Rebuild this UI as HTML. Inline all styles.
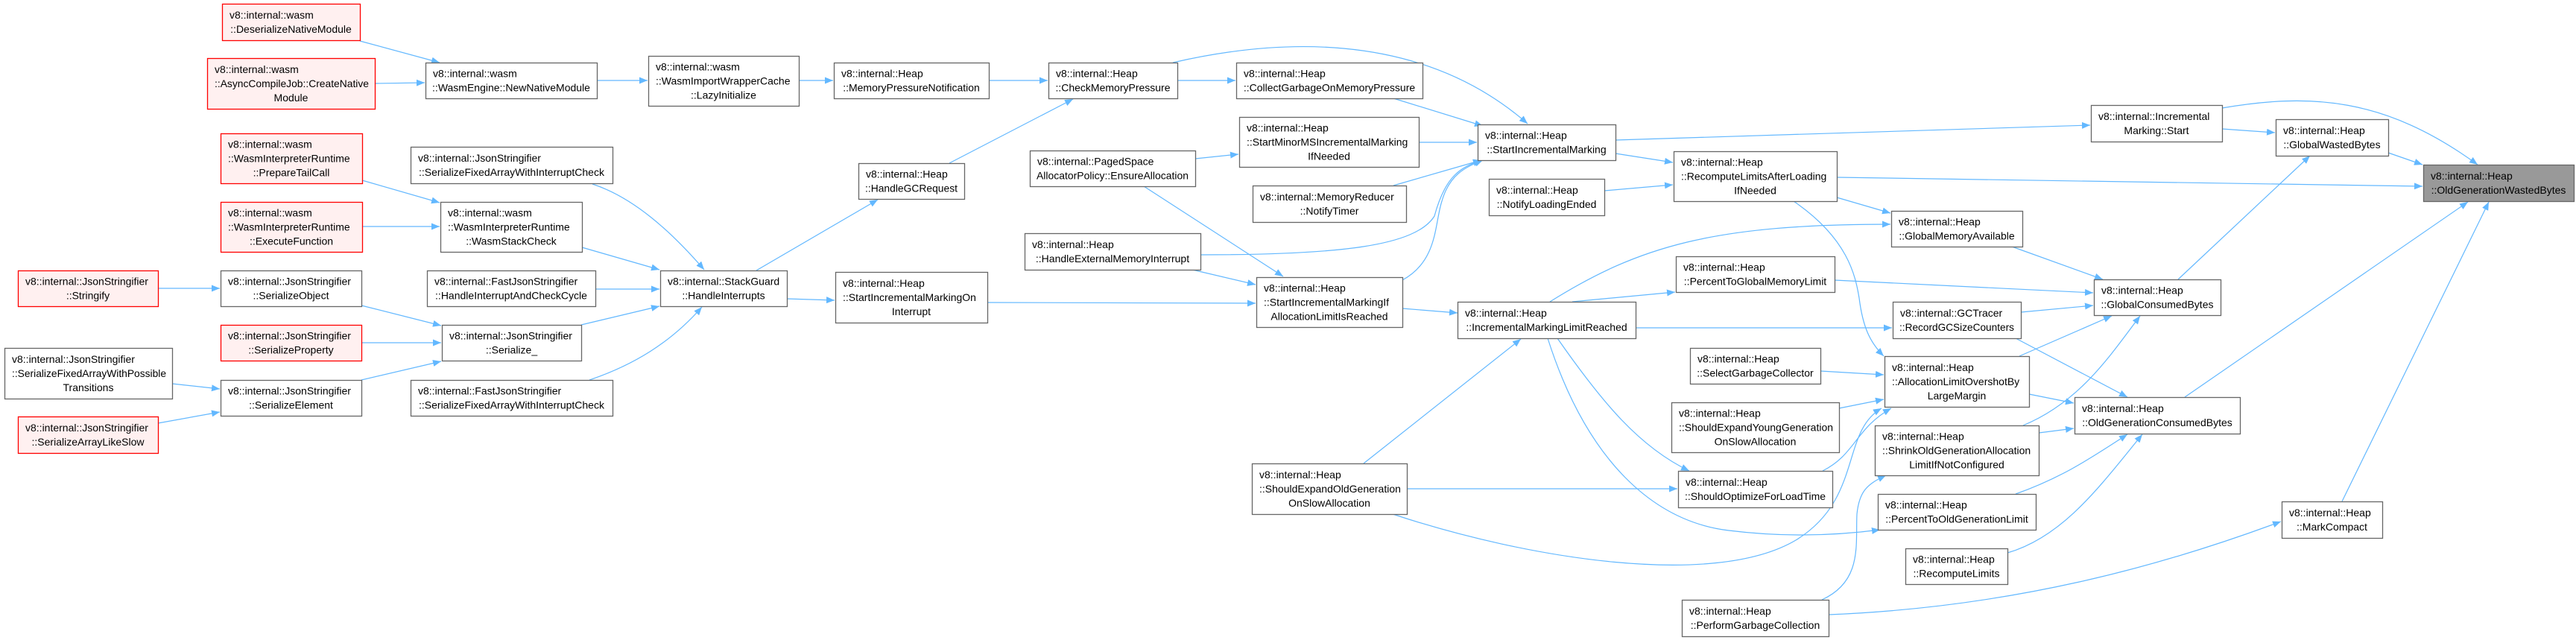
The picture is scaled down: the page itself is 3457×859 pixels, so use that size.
<!DOCTYPE html>
<html><head><meta charset="utf-8">
<style>
html,body{margin:0;padding:0;background:#fff;width:3457px;height:859px;overflow:hidden}
svg{display:block}
text{font-family:"Liberation Sans",sans-serif;font-size:14px;fill:#000}
</style></head>
<body>
<svg id="g" width="3457" height="859" xmlns="http://www.w3.org/2000/svg">
<defs><marker id="a" markerUnits="userSpaceOnUse" markerWidth="12" markerHeight="9" refX="11" refY="4.5" orient="auto"><path d="M0,0 L11,4.5 L0,9 z" fill="#63b8ff"/></marker></defs>
<g id="e" fill="none" stroke="#63b8ff" stroke-width="1.2" marker-end="url(#a)">
<path d="M483,55 L590,84"/>
<path d="M503,112 L570,111"/>
<path d="M801,108 L869,108"/>
<path d="M1072,108 L1118,108"/>
<path d="M1327,108 L1406,108"/>
<path d="M1580,108 L1658,108"/>
<path d="M1574,84 C1700,55 1900,35 2050,166"/>
<path d="M1870,132 L1990,169"/>
<path d="M1905,191 L1982,191"/>
<path d="M1870,249 L1988,215"/>
<path d="M1611,342 C1800,342 1900,330 1925,290 C1940,235 1960,225 1988,215"/>
<path d="M1882,376 C1930,350 1925,300 1935,270 C1945,235 1965,225 1990,215"/>
<path d="M1600,362 L1685,382"/>
<path d="M1535,250 L1722,371"/>
<path d="M1604,213 L1662,207"/>
<path d="M1325,406 L1685,407"/>
<path d="M1056,401 L1120,403"/>
<path d="M1015,363 L1178,268"/>
<path d="M1274,219 L1440,133"/>
<path d="M795,247 C850,265 900,310 945,362"/>
<path d="M781,332 L885,362"/>
<path d="M799,388 L885,388"/>
<path d="M780,436 L885,411"/>
<path d="M791,510 C850,490 900,460 942,412"/>
<path d="M486,242 L590,272"/>
<path d="M486,304 L590,304"/>
<path d="M212,387 L295,387"/>
<path d="M485,410 L592,437"/>
<path d="M485,460 L592,460"/>
<path d="M485,510 L592,485"/>
<path d="M231,515 L295,522"/>
<path d="M212,568 L295,553"/>
<path d="M1882,414 L1956,420"/>
<path d="M1830,622 L2041,455"/>
<path d="M1888,656 L2251,656"/>
<path d="M1869,690 C2050,750 2300,790 2410,725 C2500,670 2470,580 2525,548"/>
<path d="M2195,440 L2539,440"/>
<path d="M2110,405 L2248,392"/>
<path d="M2080,405 C2200,330 2300,301 2537,301"/>
<path d="M2090,454 C2150,540 2200,600 2267,632"/>
<path d="M2077,454 C2130,620 2220,700 2320,712 C2400,722 2470,718 2523,711"/>
<path d="M2168,188 L2805,168"/>
<path d="M2168,206 L2245,218"/>
<path d="M2153,256 L2245,248"/>
<path d="M2465,238 L3251,250"/>
<path d="M2465,265 L2537,286"/>
<path d="M2407,270 C2480,320 2490,370 2495,400 C2500,440 2510,460 2528,478"/>
<path d="M2462,376 L2809,393"/>
<path d="M2712,419 L2809,410"/>
<path d="M2705,454 L2855,533"/>
<path d="M2710,478 L2834,424"/>
<path d="M2723,529 L2783,541"/>
<path d="M2715,571 C2790,540 2830,480 2872,424"/>
<path d="M2736,581 L2783,575"/>
<path d="M2705,663 C2770,640 2810,612 2855,583"/>
<path d="M2694,742 C2770,720 2820,650 2875,583"/>
<path d="M2700,331 L2822,375"/>
<path d="M2443,498 L2528,503"/>
<path d="M2468,548 L2528,536"/>
<path d="M2446,632 C2490,610 2490,575 2538,548"/>
<path d="M2445,805 C2500,780 2490,730 2492,690 C2495,660 2505,650 2531,638"/>
<path d="M2454,825 C2700,815 2900,760 3061,700"/>
<path d="M2982,145 C3100,125 3200,130 3325,221"/>
<path d="M2982,173 L3053,178"/>
<path d="M3205,205 L3251,221"/>
<path d="M2923,375 L3100,209"/>
<path d="M2932,533 L3312,271"/>
<path d="M3143,673 L3340,271"/>
</g>
<g id="n"></g>
</svg>
<script>
var N=[
[298,5,483,54,["v8::internal::wasm","::DeserializeNativeModule"],1],
[278,78,503,146,["v8::internal::wasm","::AsyncCompileJob::CreateNative","Module"],1],
[571,84,801,132,["v8::internal::wasm","::WasmEngine::NewNativeModule"],0],
[296,179,486,246,["v8::internal::wasm","::WasmInterpreterRuntime","::PrepareTailCall"],1],
[296,271,486,338,["v8::internal::wasm","::WasmInterpreterRuntime","::ExecuteFunction"],1],
[551,197,822,246,["v8::internal::JsonStringifier","::SerializeFixedArrayWithInterruptCheck"],0],
[591,271,781,338,["v8::internal::wasm","::WasmInterpreterRuntime","::WasmStackCheck"],0],
[24,363,212,411,["v8::internal::JsonStringifier","::Stringify"],1],
[296,363,485,411,["v8::internal::JsonStringifier","::SerializeObject"],0],
[573,363,799,411,["v8::internal::FastJsonStringifier","::HandleInterruptAndCheckCycle"],0],
[296,436,485,484,["v8::internal::JsonStringifier","::SerializeProperty"],1],
[593,436,780,484,["v8::internal::JsonStringifier","::Serialize_"],0],
[6,467,231,535,["v8::internal::JsonStringifier","::SerializeFixedArrayWithPossible","Transitions"],0],
[296,510,485,558,["v8::internal::JsonStringifier","::SerializeElement"],0],
[551,510,822,558,["v8::internal::FastJsonStringifier","::SerializeFixedArrayWithInterruptCheck"],0],
[24,559,212,608,["v8::internal::JsonStringifier","::SerializeArrayLikeSlow"],1],
[870,75,1072,142,["v8::internal::wasm","::WasmImportWrapperCache","::LazyInitialize"],0],
[1119,84,1327,132,["v8::internal::Heap","::MemoryPressureNotification"],0],
[1407,84,1580,132,["v8::internal::Heap","::CheckMemoryPressure"],0],
[1659,84,1909,132,["v8::internal::Heap","::CollectGarbageOnMemoryPressure"],0],
[1152,219,1294,267,["v8::internal::Heap","::HandleGCRequest"],0],
[1382,202,1604,250,["v8::internal::PagedSpace","AllocatorPolicy::EnsureAllocation"],0],
[1663,157,1904,224,["v8::internal::Heap","::StartMinorMSIncrementalMarking","IfNeeded"],0],
[1681,249,1887,298,["v8::internal::MemoryReducer","::NotifyTimer"],0],
[1375,313,1611,362,["v8::internal::Heap","::HandleExternalMemoryInterrupt"],0],
[886,363,1056,411,["v8::internal::StackGuard","::HandleInterrupts"],0],
[1121,365,1325,433,["v8::internal::Heap","::StartIncrementalMarkingOn","Interrupt"],0],
[1686,372,1882,439,["v8::internal::Heap","::StartIncrementalMarkingIf","AllocationLimitIsReached"],0],
[1680,622,1888,690,["v8::internal::Heap","::ShouldExpandOldGeneration","OnSlowAllocation"],0],
[1983,167,2168,215,["v8::internal::Heap","::StartIncrementalMarking"],0],
[1998,240,2153,289,["v8::internal::Heap","::NotifyLoadingEnded"],0],
[2246,203,2465,270,["v8::internal::Heap","::RecomputeLimitsAfterLoading","IfNeeded"],0],
[2249,344,2462,392,["v8::internal::Heap","::PercentToGlobalMemoryLimit"],0],
[1956,405,2195,454,["v8::internal::Heap","::IncrementalMarkingLimitReached"],0],
[2268,467,2443,515,["v8::internal::Heap","::SelectGarbageCollector"],0],
[2243,540,2468,607,["v8::internal::Heap","::ShouldExpandYoungGeneration","OnSlowAllocation"],0],
[2252,632,2459,681,["v8::internal::Heap","::ShouldOptimizeForLoadTime"],0],
[2257,805,2454,854,["v8::internal::Heap","::PerformGarbageCollection"],0],
[2538,283,2714,331,["v8::internal::Heap","::GlobalMemoryAvailable"],0],
[2540,405,2712,454,["v8::internal::GCTracer","::RecordGCSizeCounters"],0],
[2529,478,2723,546,["v8::internal::Heap","::AllocationLimitOvershotBy","LargeMargin"],0],
[2516,571,2736,638,["v8::internal::Heap","::ShrinkOldGenerationAllocation","LimitIfNotConfigured"],0],
[2520,663,2732,711,["v8::internal::Heap","::PercentToOldGenerationLimit"],0],
[2557,736,2694,784,["v8::internal::Heap","::RecomputeLimits"],0],
[2806,141,2982,190,["v8::internal::Incremental","Marking::Start"],0],
[3054,160,3205,209,["v8::internal::Heap","::GlobalWastedBytes"],0],
[3252,221,3454,270,["v8::internal::Heap","::OldGenerationWastedBytes"],2],
[2810,375,2980,423,["v8::internal::Heap","::GlobalConsumedBytes"],0],
[2784,533,3006,582,["v8::internal::Heap","::OldGenerationConsumedBytes"],0],
[3062,673,3197,722,["v8::internal::Heap","::MarkCompact"],0]
];
var ns="http://www.w3.org/2000/svg",G=document.getElementById("n");
function el(t,a,p){var e=document.createElementNS(ns,t);for(var k in a)e.setAttribute(k,a[k]);p.appendChild(e);return e;}
N.forEach(function(d){
 var x1=d[0],y1=d[1],x2=d[2],y2=d[3],L=d[4],t=d[5];
 var fill=t==1?"#fff0f0":(t==2?"#999999":"#ffffff"),st=t==1?"#ff0000":"#666666";
 el("rect",{x:x1+.5,y:y1+.5,width:x2-x1,height:y2-y1,fill:fill,stroke:st,"stroke-width":1.3},G);
 var w=x2-x1,cy=(y1+y2)/2,n=L.length;
 L.forEach(function(s,i){
  var by=cy+(i-(n-1)/2)*19+5;
  var last=(i==n-1)&&n>1;
  var tx=el("text",{y:by},G);tx.textContent=s;
  var tl=tx.getComputedTextLength(),max=w-18;
  if(tl>max){tx.setAttribute("textLength",max);tx.setAttribute("lengthAdjust","spacingAndGlyphs");tl=max;}
  if(last){tx.setAttribute("x",x1+w/2);tx.setAttribute("text-anchor","middle");}
  else tx.setAttribute("x",x1+10);
 });
});
</script>
</body></html>
